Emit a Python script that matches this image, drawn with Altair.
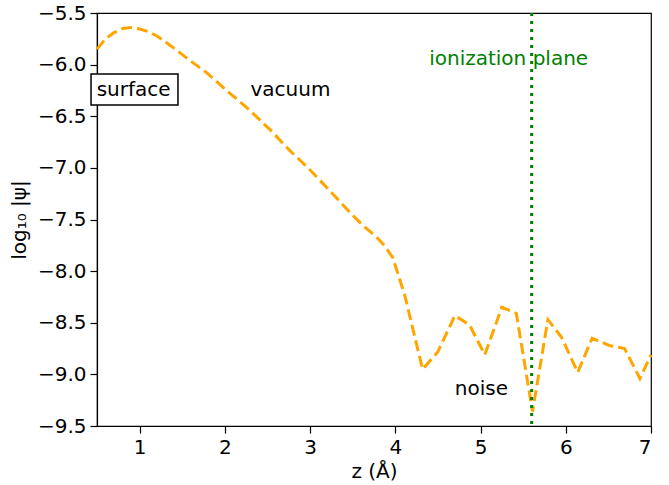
import altair as alt
import pandas as pd

z_vals = [0.5, 0.6, 0.7, 0.8, 0.9, 1.0, 1.1, 1.2, 1.32, 1.45, 1.59, 1.79, 2.02, 2.29,
          2.53, 2.76, 3.0, 3.23, 3.5, 3.65, 3.78, 3.88, 3.97, 4.11, 4.32, 4.5, 4.7,
          4.87, 5.05, 5.25, 5.42, 5.61, 5.79, 5.95, 6.14, 6.31, 6.51, 6.69, 6.87, 7.0]
logpsi = [-5.85, -5.75, -5.69, -5.65, -5.64, -5.655, -5.68, -5.72, -5.79, -5.87, -5.96,
          -6.08, -6.25, -6.44, -6.63, -6.83, -7.02, -7.22, -7.46, -7.58, -7.67, -7.76,
          -7.87, -8.23, -8.95, -8.78, -8.43, -8.52, -8.81, -8.35, -8.41, -9.36, -8.47,
          -8.64, -8.98, -8.65, -8.72, -8.75, -9.04, -8.81]

plane_z = [5.6]
labels_text = ["vacuum", "ionization plane", "noise"]
labels_x = [2.77, 5.33, 5.01]
labels_y = [-6.25, -5.95, -9.14]
labels_color = ["black", "green", "black"]

surface_text = ["surface"]
surface_x = [0.93]
surface_y = [-6.25]
box_x = [0.43]
box_x2 = [1.45]
box_y = [-6.09]
box_y2 = [-6.39]

df = pd.DataFrame({"z": z_vals, "v": logpsi})
xs = alt.Scale(domain=[0.5, 7], nice=False, zero=False)
ys = alt.Scale(domain=[-9.5, -5.5], nice=False, zero=False)

FS = 20

line = alt.Chart(df).mark_line(color="#FFA500", strokeWidth=3, strokeDash=[11, 5]).encode(
    x=alt.X("z:Q", scale=xs,
            axis=alt.Axis(title="z (Å)", values=[1, 2, 3, 4, 5, 6, 7], format="d")),
    y=alt.Y("v:Q", scale=ys,
            axis=alt.Axis(title="log₁₀ |ψ|", values=[-5.5, -6, -6.5, -7, -7.5, -8, -8.5, -9, -9.5],
                          format=".1f")),
)

rule = alt.Chart(pd.DataFrame({"z": plane_z})).mark_rule(
    color="green", strokeWidth=3, strokeDash=[3, 5]).encode(x=alt.X("z:Q", scale=xs))

tdf = pd.DataFrame({"x": labels_x, "y": labels_y, "t": labels_text, "c": labels_color})
texts = alt.Chart(tdf).mark_text(fontSize=FS, font="DejaVu Sans", align="center",
                                 baseline="middle").encode(
    x=alt.X("x:Q", scale=xs), y=alt.Y("y:Q", scale=ys), text="t:N",
    color=alt.Color("c:N", scale=None))

box = alt.Chart(pd.DataFrame({"x": box_x, "x2": box_x2, "y": box_y, "y2": box_y2})).mark_rect(
    fill="white", stroke="black", strokeWidth=1.5, clip=False).encode(
    x=alt.X("x:Q", scale=xs), x2="x2:Q", y=alt.Y("y:Q", scale=ys), y2="y2:Q")

stext = alt.Chart(pd.DataFrame({"x": surface_x, "y": surface_y, "t": surface_text})).mark_text(
    fontSize=FS, font="DejaVu Sans", align="center", baseline="middle", clip=False).encode(
    x=alt.X("x:Q", scale=xs), y=alt.Y("y:Q", scale=ys), text="t:N")

chart = alt.layer(line, rule, box, stext, texts).properties(
    width=554, height=413,
    autosize=alt.AutoSizeParams(type="none"),
    padding={"left": 97, "top": 13, "right": 18, "bottom": 59},
).configure_view(stroke="black", strokeWidth=1.2).configure_axis(
    labelFont="DejaVu Sans", titleFont="DejaVu Sans", labelFontSize=FS, titleFontSize=FS,
    titleFontWeight="normal", labelColor="black", titleColor="black",
    domainColor="black", tickColor="black", tickSize=7, grid=False, labelPadding=4,
    domainWidth=1.2, tickWidth=1.2,
).configure_axisY(titlePadding=8).configure_axisX(titlePadding=4)

chart.save("out.html", embed_options={"renderer": "svg", "actions": False})
